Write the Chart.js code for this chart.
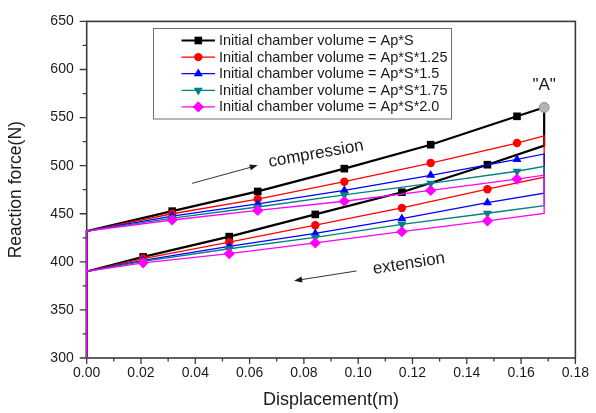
<!DOCTYPE html>
<html>
<head>
<meta charset="utf-8">
<script src="https://cdn.jsdelivr.net/npm/chart.js@4/dist/chart.umd.min.js"></script>
<style>
  html, body { margin: 0; padding: 0; background: #ffffff; }
  #wrap { width: 596px; height: 413px; }
</style>
</head>
<body>
<div id="wrap"><canvas id="chart" width="596" height="413"></canvas></div>
<script>
// ---- measured hysteresis loops: reaction force (N) vs displacement (m) ----
const seriesLabels = [
  'Initial chamber volume = Ap*S',
  'Initial chamber volume = Ap*S*1.25',
  'Initial chamber volume = Ap*S*1.5',
  'Initial chamber volume = Ap*S*1.75',
  'Initial chamber volume = Ap*S*2.0'
];

// displacement of the sampled points on each stroke
const compressionX = [0.0315, 0.063, 0.0949, 0.1267, 0.1585];
const extensionX   = [0.0208, 0.0525, 0.0842, 0.1161, 0.1476];
const strokeEnd = 0.1685;

// force at the start of each stroke
const forceFloor = 300;
const compressionStart = 432;
const extensionStart = 390;

// compression stroke (upper branch)
const compressionS    = [452.7, 473.2, 496.9, 521.8, 551.3];
const compressionS125 = [450.0, 465.3, 483.3, 502.7, 523.5];
const compressionS150 = [447.6, 460.2, 474.2, 490.0, 506.5];
const compressionS175 = [445.5, 457.0, 469.7, 481.6, 494.2];
const compressionS200 = [443.5, 453.4, 463.0, 474.2, 486.0];

// extension stroke (lower branch)
const extensionS    = [405.1, 426.2, 449.3, 472.4, 501.0];
const extensionS125 = [403.4, 420.4, 438.1, 456.0, 475.5];
const extensionS150 = [401.5, 416.0, 429.6, 444.9, 461.5];
const extensionS175 = [400.5, 413.6, 425.5, 439.0, 450.5];
const extensionS200 = [399.0, 408.5, 419.7, 431.3, 442.5];

// force at full stroke, before and after reversal
const peakForce    = [560.5, 531.0, 512.2, 499.3, 490.1];
const reversalForce = [520.8, 488.0, 471.4, 458.5, 450.3];

const xTicks = [0, 0.02, 0.04, 0.06, 0.08, 0.10, 0.12, 0.14, 0.16, 0.18];
const yTicks = [300, 350, 400, 450, 500, 550, 600, 650];

// ---- styles ----
const seriesColors = ['#000000', '#ff0000', '#0000ff', '#008080', '#ff00ff'];
const seriesWidths = [2.2, 1.3, 1.3, 1.3, 1.3];
const markerStyles = ['rect', 'circle', 'triangle', 'triangle', 'rectRot'];
const markerRotations = [0, 0, 0, 180, 0];
const markerRadii = [5.4, 4.2, 5.2, 5.2, 5.6];
const axisColor = '#3a3a3a';
const textColor = '#1a1a1a';
const fontFamily = '"Liberation Sans", Arial, "DejaVu Sans", sans-serif';

const compressionSets = [compressionS, compressionS125, compressionS150, compressionS175, compressionS200];
const extensionSets = [extensionS, extensionS125, extensionS150, extensionS175, extensionS200];

// one closed loop per chamber volume: rise at x=0, compression, reversal, extension
function buildLoop(i) {
  const pts = [{ x: 0, y: forceFloor }, { x: 0, y: compressionStart }];
  compressionX.forEach((x, k) => pts.push({ x, y: compressionSets[i][k], m: true }));
  pts.push({ x: strokeEnd, y: peakForce[i] });
  pts.push({ x: strokeEnd, y: reversalForce[i] });
  for (let k = extensionX.length - 1; k >= 0; k--) {
    pts.push({ x: extensionX[k], y: extensionSets[i][k], m: true });
  }
  pts.push({ x: 0, y: extensionStart });
  return pts;
}

const datasets = seriesLabels.map((label, i) => ({
  label,
  data: buildLoop(i),
  borderColor: seriesColors[i],
  backgroundColor: seriesColors[i],
  borderWidth: seriesWidths[i],
  pointStyle: markerStyles[i],
  pointRotation: markerRotations[i],
  pointRadius: (c) => (c.raw && c.raw.m ? markerRadii[i] : 0),
  pointBorderWidth: 0,
  tension: 0,
  clip: false,
  order: seriesLabels.length - i + 1
}));

// peak "A" of the first loop
datasets.push({
  label: 'A',
  data: [{ x: strokeEnd, y: peakForce[0] }],
  showLine: false,
  pointStyle: 'circle',
  pointRadius: 5,
  pointBackgroundColor: '#b4b4b4',
  pointBorderColor: '#8c8c8c',
  pointBorderWidth: 1,
  clip: false,
  order: 0
});

function drawMarker(ctx, i, x, y) {
  ctx.fillStyle = seriesColors[i];
  ctx.strokeStyle = seriesColors[i];
  Chart.helpers.drawPoint(ctx, {
    pointStyle: markerStyles[i],
    rotation: markerRotations[i],
    radius: markerRadii[i],
    borderWidth: 0
  }, x, y);
}

// frame and tick marks (major + minor) drawn under the curves
const framePlugin = {
  id: 'frame',
  beforeDatasetsDraw(chart) {
    const { ctx, chartArea: a, scales: { x, y } } = chart;
    ctx.save();
    ctx.strokeStyle = axisColor;
    ctx.lineWidth = 1.6;
    ctx.strokeRect(a.left, a.top, a.right - a.left, a.bottom - a.top);
    ctx.lineWidth = 1.3;
    ctx.beginPath();
    for (let k = 0; k < xTicks.length; k++) {
      const px = x.getPixelForValue(xTicks[k]);
      ctx.moveTo(px, a.bottom); ctx.lineTo(px, a.bottom + 6);
      if (k < xTicks.length - 1) {
        const mx = x.getPixelForValue((xTicks[k] + xTicks[k + 1]) / 2);
        ctx.moveTo(mx, a.bottom); ctx.lineTo(mx, a.bottom + 3.5);
      }
    }
    for (let k = 0; k < yTicks.length; k++) {
      const py = y.getPixelForValue(yTicks[k]);
      ctx.moveTo(a.left, py); ctx.lineTo(a.left - 7, py);
      if (k < yTicks.length - 1) {
        const my = y.getPixelForValue((yTicks[k] + yTicks[k + 1]) / 2);
        ctx.moveTo(a.left, my); ctx.lineTo(a.left - 4, my);
      }
    }
    ctx.stroke();
    ctx.restore();
  }
};

function arrow(ctx, x0, y0, x1, y1) {
  const ang = Math.atan2(y1 - y0, x1 - x0);
  ctx.beginPath();
  ctx.moveTo(x0, y0);
  ctx.lineTo(x1 - 5 * Math.cos(ang), y1 - 5 * Math.sin(ang));
  ctx.stroke();
  ctx.beginPath();
  ctx.moveTo(x1, y1);
  ctx.lineTo(x1 - 8 * Math.cos(ang) + 3 * Math.sin(ang), y1 - 8 * Math.sin(ang) - 3 * Math.cos(ang));
  ctx.lineTo(x1 - 8 * Math.cos(ang) - 3 * Math.sin(ang), y1 - 8 * Math.sin(ang) + 3 * Math.cos(ang));
  ctx.closePath();
  ctx.fill();
}

// stroke-direction notes, the "A" tag and the boxed legend
const notesPlugin = {
  id: 'notes',
  afterDraw(chart) {
    const { ctx, scales: { x, y } } = chart;
    ctx.save();
    ctx.fillStyle = textColor;
    ctx.strokeStyle = '#333333';
    ctx.lineWidth = 1;

    ctx.font = '17px ' + fontFamily;
    ctx.textAlign = 'center';
    ctx.textBaseline = 'middle';

    ctx.save();
    ctx.translate(x.getPixelForValue(0.0845), y.getPixelForValue(512.2));
    ctx.rotate(-10 * Math.PI / 180);
    ctx.fillText('compression', 0, 0);
    ctx.restore();
    arrow(ctx, x.getPixelForValue(0.0388), y.getPixelForValue(481.6),
               x.getPixelForValue(0.0630), y.getPixelForValue(500.3));

    ctx.save();
    ctx.translate(x.getPixelForValue(0.1187), y.getPixelForValue(398));
    ctx.rotate(-9 * Math.PI / 180);
    ctx.fillText('extension', 0, 0);
    ctx.restore();
    arrow(ctx, x.getPixelForValue(0.0994), y.getPixelForValue(390.5),
               x.getPixelForValue(0.0764), y.getPixelForValue(380.3));

    ctx.fillText('"A"', x.getPixelForValue(strokeEnd), y.getPixelForValue(583.7));

    // legend box
    ctx.strokeStyle = '#6e6e6e';
    ctx.lineWidth = 1;
    ctx.fillStyle = '#ffffff';
    ctx.fillRect(153.5, 28.5, 298, 90.5);
    ctx.strokeRect(153.5, 28.5, 298, 90.5);
    ctx.font = '14.5px ' + fontFamily;
    ctx.textAlign = 'left';
    seriesLabels.forEach((label, i) => {
      const ry = 40.5 + i * 16.6;
      ctx.strokeStyle = seriesColors[i];
      ctx.lineWidth = seriesWidths[i];
      ctx.beginPath();
      ctx.moveTo(181.5, ry); ctx.lineTo(215, ry);
      ctx.stroke();
      drawMarker(ctx, i, 198.3, ry);
      ctx.fillStyle = textColor;
      ctx.fillText(label, 219, ry + 0.5);
    });
    ctx.restore();
  }
};

new Chart(document.getElementById('chart'), {
  type: 'line',
  data: { datasets },
  plugins: [framePlugin, notesPlugin],
  options: {
    responsive: false,
    animation: false,
    events: [],
    layout: { padding: { top: 15, right: 14.3, left: 0, bottom: 0 } },
    plugins: { legend: { display: false }, tooltip: { enabled: false } },
    scales: {
      x: {
        type: 'linear',
        min: 0,
        max: 0.18,
        afterFit: (s) => { s.height = 55; },
        afterBuildTicks: (s) => { s.ticks = xTicks.map(v => ({ value: v })); },
        ticks: {
          callback: (v) => v.toFixed(2),
          color: textColor,
          padding: 7,
          maxRotation: 0,
          autoSkip: false,
          font: { family: fontFamily, size: 14 }
        },
        grid: { display: false, drawTicks: false },
        border: { display: false },
        title: {
          display: true,
          text: 'Displacement(m)',
          color: textColor,
          font: { family: fontFamily, size: 18 },
          padding: { top: 0, bottom: 2 }
        }
      },
      y: {
        type: 'linear',
        min: 300,
        max: 650,
        afterFit: (s) => { s.width = 86.7; },
        afterBuildTicks: (s) => { s.ticks = yTicks.map(v => ({ value: v })); },
        ticks: {
          callback: (v) => String(v),
          color: textColor,
          padding: 13,
          autoSkip: false,
          font: { family: fontFamily, size: 14 }
        },
        grid: { display: false, drawTicks: false },
        border: { display: false },
        title: {
          display: true,
          text: 'Reaction force(N)',
          color: textColor,
          font: { family: fontFamily, size: 17.5 },
          padding: { top: 6, bottom: 0 }
        }
      }
    }
  }
});
</script>
</body>
</html>
